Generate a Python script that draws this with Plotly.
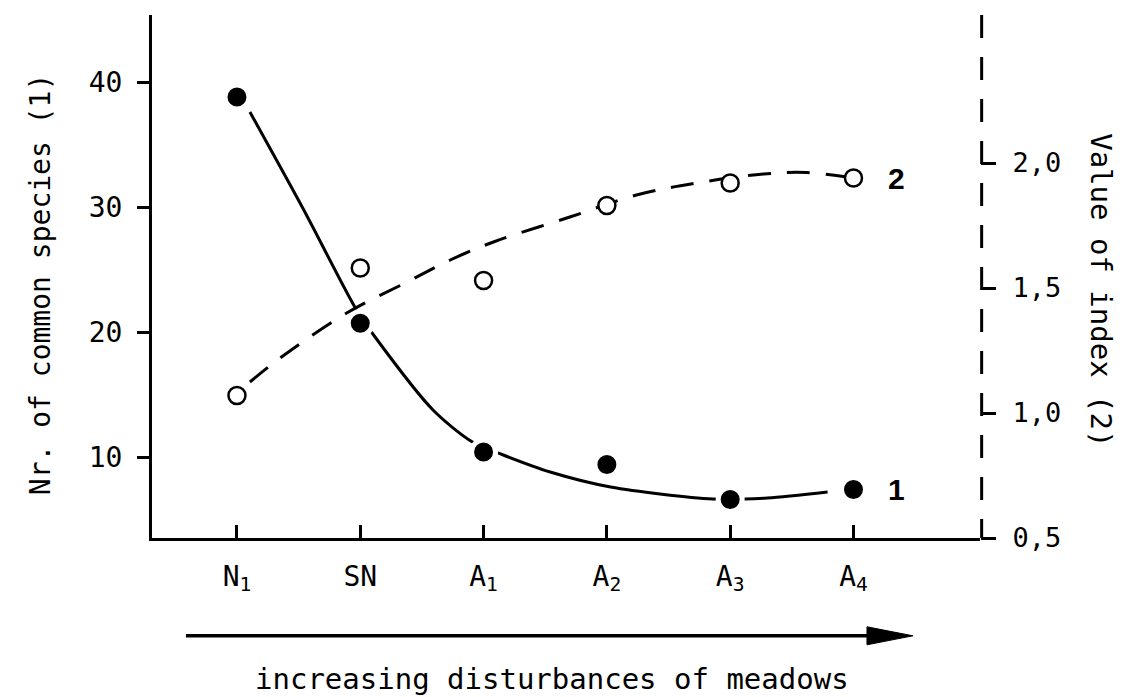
import plotly.graph_objects as go

# ---- data ----
categories = ["N<sub>1</sub>", "SN", "A<sub>1</sub>", "A<sub>2</sub>", "A<sub>3</sub>", "A<sub>4</sub>"]
species = [38.8, 20.7, 10.4, 9.4, 6.6, 7.4]          # series 1 (left axis)
index_vals = [1.07, 1.58, 1.53, 1.83, 1.92, 1.94]      # series 2 (right axis)

# hand-drawn fitted curves
curve1_x = [0.105, 0.54, 0.97, 1.12, 1.59, 1.91, 2.16, 2.54, 3.03, 3.86, 4.3, 4.79]
curve1_y = [37.6, 29.8, 21.76, 19.6, 13.76, 11.2, 10.16, 8.8, 7.6, 6.64, 6.72, 7.2]
curve2_x = [0.105, 0.35, 0.89, 1.38, 1.73, 2.08, 2.70, 3.24, 3.73, 4.27, 4.62, 5.0]
curve2_y = [1.124, 1.22, 1.40, 1.524, 1.612, 1.684, 1.784, 1.872, 1.92, 1.956, 1.962, 1.94]

left_ticks = [10, 20, 30, 40]
right_ticks = [0.5, 1.0, 1.5, 2.0]
right_tick_text = ["0,5", "1,0", "1,5", "2,0"]

xpos = list(range(len(categories)))

MONO = "DejaVu Sans Mono"
BOLD = "Liberation Sans"

fig = go.Figure()

fig.add_trace(go.Scatter(x=curve1_x, y=curve1_y, mode="lines",
                         line=dict(color="black", width=3, shape="spline", smoothing=0.8),
                         yaxis="y", hoverinfo="skip"))
fig.add_trace(go.Scatter(x=curve2_x, y=curve2_y, mode="lines",
                         line=dict(color="black", width=3, shape="spline", dash="23px,16px"),
                         yaxis="y2", hoverinfo="skip"))
fig.add_trace(go.Scatter(x=xpos, y=species, mode="markers",
                         marker=dict(symbol="circle", size=24, color="black",
                                     line=dict(color="white", width=5)),
                         yaxis="y"))
fig.add_trace(go.Scatter(x=xpos, y=index_vals, mode="markers",
                         marker=dict(symbol="circle", size=17, color="white",
                                     line=dict(color="black", width=2.5)),
                         yaxis="y2"))

# page body has an 8px margin, so the figure is shrunk/shifted accordingly
fig.update_layout(
    width=1137, height=689,
    margin=dict(l=144, r=165, t=7, b=159),
    paper_bgcolor="white", plot_bgcolor="white",
    showlegend=False,
    font=dict(family=MONO, color="black", size=26),
    xaxis=dict(range=[-0.689, 6.026], tickvals=xpos, ticktext=categories,
               showgrid=False, zeroline=False, showline=True, linecolor="black",
               linewidth=3, ticks="inside", ticklen=13, tickwidth=2.5, tickcolor="black",
               tickfont=dict(family=MONO, size=28), ticklabelstandoff=11),
    yaxis=dict(range=[3.52, 45.36], tickvals=left_ticks, showgrid=False, zeroline=False,
               showline=True, linecolor="black", linewidth=3, ticks="outside",
               ticklen=12, tickwidth=2.5, tickcolor="black",
               tickfont=dict(family=MONO, size=28), ticklabelstandoff=9),
    yaxis2=dict(range=[0.5, 2.592], overlaying="y", side="right", anchor="x",
                tickvals=right_ticks, ticktext=right_tick_text, showgrid=False,
                zeroline=False, showline=False, ticks="outside", ticklen=15,
                tickwidth=3, tickcolor="black",
                tickfont=dict(family=MONO, size=27), ticklabelstandoff=11),
)

# dashed right axis line
fig.add_shape(type="line", xref="paper", yref="paper", x0=1.002, x1=1.002, y0=1, y1=0,
              line=dict(color="black", width=3, dash="23px,19px"))

# arrow below the axis
fig.add_shape(type="line", xref="paper", yref="paper", x0=0.041, x1=0.87, y0=-0.187, y1=-0.187,
              line=dict(color="black", width=3.5))
fig.add_shape(type="path", xref="paper", yref="paper",
              path="M 0.8635 -0.1698 L 0.919 -0.187 L 0.8635 -0.2042 Z",
              fillcolor="black", line=dict(color="black", width=1))

# axis titles and labels
fig.add_annotation(text="Nr. of common species (1)", xref="paper", yref="paper",
                   x=-0.156, y=0.484, textangle=-90, showarrow=False,
                   font=dict(family=MONO, size=28))
fig.add_annotation(text="Value of index (2)", xref="paper", yref="paper",
                   x=1.169, y=0.474, textangle=90, showarrow=False,
                   font=dict(family=MONO, size=29))
fig.add_annotation(text="increasing disturbances of meadows", xref="paper", yref="paper",
                   x=0.483, y=-0.305, showarrow=False, font=dict(family=MONO, size=29))
fig.add_annotation(text="<b>1</b>", xref="x", yref="y", x=5.35, y=species[-1],
                   showarrow=False, font=dict(family=BOLD, size=30))
fig.add_annotation(text="<b>2</b>", xref="x", yref="y2", x=5.35, y=index_vals[-1],
                   showarrow=False, font=dict(family=BOLD, size=30))

fig.write_html("out.html")
